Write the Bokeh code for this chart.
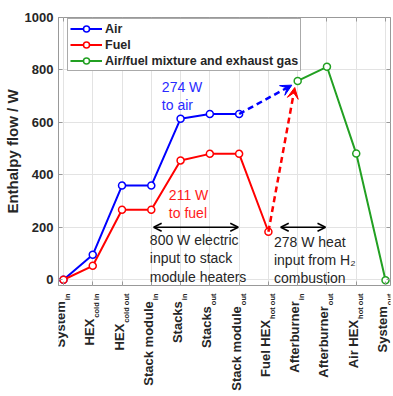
import math
from bokeh.plotting import figure
from bokeh.layouts import column
from bokeh.models import (Range1d, Label, Arrow, VeeHead, OpenHead, Legend, LegendItem,
                          FixedTicker, ColumnDataSource, LinearAxis)
from bokeh.core.properties import value
from bokeh.embed import file_html
from bokeh.resources import INLINE

# ---- data ----
stage_names = ["System", "HEX", "HEX", "Stack module", "Stacks", "Stacks",
               "Stack module", "Fuel HEX", "Afterburner", "Afterburner", "Air HEX", "System"]
stage_subs = ["in", "cold in", "cold out", "in", "in", "out",
              "out", "hot out", "in", "out", "hot out", "out"]
stage_pos = list(range(1, 13))

air_pos = [1, 2, 3, 4, 5, 6, 7]
air_vals = [0, 95, 359, 359, 614, 632, 632]
fuel_pos = [1, 2, 3, 4, 5, 6, 7, 8]
fuel_vals = [0, 53, 267, 267, 455, 480, 480, 183]
mix_pos = [9, 10, 11, 12]
mix_vals = [758, 812, 481, -2]

y_ticks = [0, 200, 400, 600, 800, 1000]
y_min, y_max = -22, 1000

# annotation texts / anchors
air_note = ("274 W\nto air", 4.36, 767)
fuel_note = ("211 W\nto fuel", 4.6, 355)
heater_note = ("800 W electric\ninput to stack\nmodule heaters", 3.95, 183)
comb_note = ("278 W heat\ninput from H\u2082\ncombustion", 8.19, 176)
heater_span = (4.08, 6.97, 200)
comb_span = (8.42, 9.95, 200)
air_arrow_tip = (8.8, 742)
fuel_arrow_tip = (8.9, 733)

BLUE = "#0000ff"
RED = "#ff0000"
GREEN = "#22a022"
FONT = "Liberation Sans"
DARK = "#262626"
AXIS_GRAY = "#999999"

x_range = Range1d(0.83, 12.17)

p = figure(width=393, height=289, output_backend="svg", toolbar_location=None,
           x_range=x_range, y_range=Range1d(y_min, y_max),
           min_border_left=56, min_border_right=3, min_border_top=17, min_border_bottom=4)
p.background_fill_color = "white"
p.border_fill_color = "white"
p.outline_line_color = AXIS_GRAY


def tick_only(ax, ticks):
    ax.ticker = FixedTicker(ticks=ticks)
    ax.major_label_overrides = {t: "" for t in ticks}
    ax.major_label_text_font_size = "0px"
    ax.major_label_standoff = 0
    ax.axis_line_color = None
    ax.major_tick_line_color = AXIS_GRAY
    ax.major_tick_in = 4
    ax.major_tick_out = 0
    ax.minor_tick_line_color = None


tick_only(p.xaxis[0], stage_pos)
top_ax = LinearAxis()
tick_only(top_ax, stage_pos)
p.add_layout(top_ax, "above")
right_ax = LinearAxis()
tick_only(right_ax, y_ticks)
p.add_layout(right_ax, "right")

p.yaxis[0].ticker = FixedTicker(ticks=y_ticks)
p.yaxis[0].axis_line_color = AXIS_GRAY
p.yaxis[0].major_tick_line_color = AXIS_GRAY
p.yaxis[0].major_tick_in = 4
p.yaxis[0].major_tick_out = 0
p.yaxis[0].minor_tick_line_color = None
p.yaxis[0].major_label_text_font = FONT
p.yaxis[0].major_label_text_font_style = "bold"
p.yaxis[0].major_label_text_font_size = "13px"
p.yaxis[0].major_label_text_color = DARK
p.yaxis[0].major_label_standoff = 5
p.yaxis[0].axis_label = "Enthalpy flow / W"
p.yaxis[0].axis_label_text_font = FONT
p.yaxis[0].axis_label_text_font_style = "bold"
p.yaxis[0].axis_label_text_font_size = "15px"
p.yaxis[0].axis_label_text_color = DARK
p.yaxis[0].axis_label_standoff = 1

p.xgrid.ticker = FixedTicker(ticks=stage_pos)
p.ygrid.ticker = FixedTicker(ticks=y_ticks)
p.grid.grid_line_color = "#e3e3e3"
p.grid.grid_line_width = 1

# dashed transfer arrows (from last points of air/fuel to afterburner inlet)
p.add_layout(Arrow(x_start=air_pos[-1], y_start=air_vals[-1], x_end=air_arrow_tip[0], y_end=air_arrow_tip[1],
                   line_color=BLUE, line_width=2.5, line_dash="6 4",
                   end=VeeHead(size=11, fill_color=BLUE, line_color=BLUE, line_width=1)))
p.add_layout(Arrow(x_start=fuel_pos[-1], y_start=fuel_vals[-1], x_end=fuel_arrow_tip[0], y_end=fuel_arrow_tip[1],
                   line_color=RED, line_width=2.5, line_dash="6 4",
                   end=VeeHead(size=11, fill_color=RED, line_color=RED, line_width=1)))

series = []
for pos, vals, col in ((air_pos, air_vals, BLUE), (fuel_pos, fuel_vals, RED), (mix_pos, mix_vals, GREEN)):
    ln = p.line(pos, vals, line_color=col, line_width=2)
    sc = p.scatter(pos, vals, marker="circle", size=7, line_color=col, line_width=1.5, fill_color="white")
    series.append([ln, sc])

legend = Legend(items=[LegendItem(label="Air", renderers=series[0]),
                       LegendItem(label="Fuel", renderers=series[1]),
                       LegendItem(label="Air/fuel mixture and exhaust gas", renderers=series[2])],
                location=(9, 214), margin=0, padding=2, spacing=1,
                glyph_width=32, glyph_height=15, label_height=15, label_standoff=3,
                label_text_font=FONT, label_text_font_style="bold", label_text_font_size="12.5px",
                label_text_color=DARK,
                border_line_color="#555555", border_line_width=1, background_fill_alpha=1)
p.add_layout(legend)

# double arrows
for (x0, x1, yy) in (heater_span, comb_span):
    p.add_layout(Arrow(x_start=x0, y_start=yy, x_end=x1, y_end=yy, line_color="black", line_width=1.5,
                       start=OpenHead(size=8, line_color="black", line_width=1.5),
                       end=OpenHead(size=8, line_color="black", line_width=1.5)))

for (txt, xx, yy), col in ((air_note, "#2a2aff"), (fuel_note, "#ff1a1a"),
                           (heater_note, DARK), (comb_note, DARK)):
    p.add_layout(Label(x=xx, y=yy, text=txt, text_font=FONT, text_font_size="14px",
                       text_color=col, text_align="left", text_baseline="top", text_line_height=1.15))

# ---- x tick labels (with subscripts) in a strip below the plot, sharing the x scale ----
BOLD_W = {'a': .556, 'c': .556, 'd': .611, 'e': .556, 'h': .611, 'i': .278, 'l': .278,
          'n': .611, 'o': .611, 't': .333, 'u': .611, ' ': .278}


def text_w(s, size):
    return sum(BOLD_W.get(ch, .6) for ch in s) * size


SUB_SIZE = 7.5
STRIP_H = 107
TOP_GAP = 4
sub_src = ColumnDataSource(dict(x=stage_pos, y=[-TOP_GAP] * len(stage_pos), text=stage_subs))
main_src = ColumnDataSource(dict(x=stage_pos,
                                 y=[-(TOP_GAP + 1 + text_w(s, SUB_SIZE)) for s in stage_subs],
                                 text=stage_names))

q = figure(width=393, height=STRIP_H, output_backend="svg", toolbar_location=None,
           x_range=x_range, y_range=Range1d(-STRIP_H, 0),
           min_border_left=56, min_border_right=3, min_border_top=0, min_border_bottom=0)
q.axis.visible = False
q.grid.visible = False
q.outline_line_color = None
q.background_fill_color = "white"
q.border_fill_color = "white"
q.text(x="x", y="y", text="text", source=sub_src, angle=math.pi / 2, x_offset=4,
       text_align="right", text_baseline="middle", text_font=value(FONT),
       text_font_style="bold", text_font_size=f"{SUB_SIZE}px", text_color=DARK)
q.text(x="x", y="y", text="text", source=main_src, angle=math.pi / 2, x_offset=-3,
       text_align="right", text_baseline="middle", text_font=value(FONT),
       text_font_style="bold", text_font_size="13px", text_color=DARK)

layout = column(p, q, spacing=0)
open("out.html", "w").write(file_html(layout, INLINE))
